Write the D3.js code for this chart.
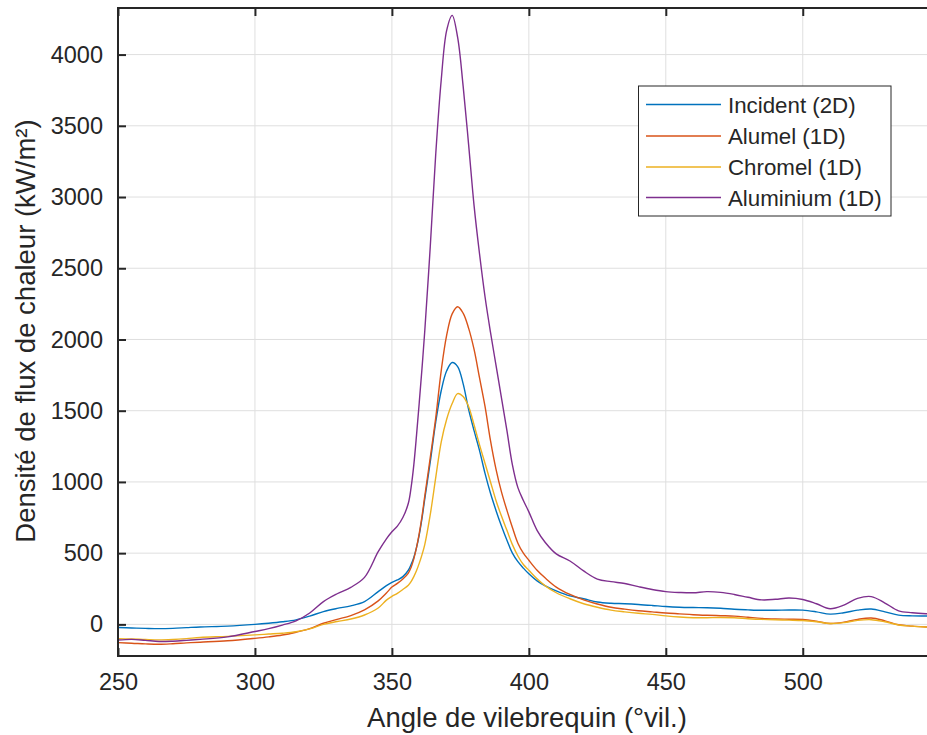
<!DOCTYPE html>
<html>
<head>
<meta charset="utf-8">
<script src="https://cdn.jsdelivr.net/npm/d3@7"></script>
<style>
  html, body { margin: 0; padding: 0; background: #fff; }
  svg { display: block; }
  text { font-family: "Liberation Sans", Arial, Helvetica, sans-serif; fill: #262626; }
</style>
</head>
<body>
<svg id="chart" width="927" height="735"></svg>
<script>
// ---- Data ----
const angle = [250,255,260,265,270,275,280,290,300,305,310,315,320,325,330,335,340,345,348,350,352,354,356,357,358,359,360,361,362,364,366,368,370,372,374,376,378,380,382,384,386,388,390,392,394,396,398,400,403,406,410,415,420,425,430,435,440,445,450,455,460,465,470,475,480,485,490,495,500,505,510,515,520,525,530,535,540,545,548];

const incident = [-22,-25,-28,-30,-28,-23,-18,-12,0,8,18,32,58,90,112,130,160,230,272,295,312,335,380,420,470,540,630,745,880,1140,1420,1640,1780,1838,1810,1690,1510,1360,1220,1060,920,800,690,590,500,440,395,355,305,270,235,200,180,157,148,145,140,133,125,120,118,117,113,106,102,99,99,101,100,88,72,82,100,108,88,65,60,59,58];

const alumel = [-128,-132,-137,-140,-136,-130,-125,-115,-98,-88,-75,-55,-30,8,35,62,102,165,220,262,288,318,360,400,460,540,640,760,900,1170,1450,1780,2030,2180,2230,2185,2080,1930,1730,1530,1290,1090,930,800,680,570,500,450,380,325,262,210,172,143,120,107,96,88,80,74,68,64,61,58,50,42,38,36,34,22,6,15,35,45,25,-3,-12,-18,-21];

const chromel = [-100,-102,-106,-109,-106,-100,-92,-84,-74,-68,-62,-52,-32,0,20,38,66,115,170,196,218,245,275,300,335,378,430,490,560,770,1030,1280,1440,1550,1620,1600,1530,1400,1260,1130,1000,870,760,660,560,480,420,380,320,270,222,180,145,120,100,88,78,70,60,52,47,47,48,46,40,35,32,30,27,18,6,12,28,33,18,-4,-12,-18,-21];

const aluminium = [-110,-105,-112,-120,-118,-112,-105,-88,-50,-30,-5,25,80,160,215,260,330,510,600,650,690,750,850,960,1120,1330,1560,1800,2060,2650,3300,3820,4170,4275,4120,3780,3370,2940,2600,2300,2050,1820,1590,1360,1120,960,870,790,660,575,495,445,375,318,300,287,265,245,230,224,222,230,225,210,190,172,176,185,175,145,110,135,182,195,150,95,82,75,73];

const seriesNames = ["Incident (2D)", "Alumel (1D)", "Chromel (1D)", "Aluminium (1D)"];
const seriesColors = ["#0072BD", "#D95319", "#EDB120", "#7E2F8E"];
const seriesValues = [incident, alumel, chromel, aluminium];

const xTicks = [250, 300, 350, 400, 450, 500];
const yTicks = [0, 500, 1000, 1500, 2000, 2500, 3000, 3500, 4000];
const xLabel = "Angle de vilebrequin (°vil.)";
const yLabel = "Densité de flux de chaleur (kW/m²)";

// ---- Layout ----
const L = 118, R = 930, T = 8, B = 656;
const svg = d3.select("#chart");

const x = d3.scaleLinear().domain([250, 250 + (R - L) / 2.739]).range([L, R]);
const y = d3.scaleLinear().domain([-222, 4327]).range([B, T]);

// grid
const grid = svg.append("g");
grid.selectAll("line.gx").data(xTicks).enter().append("line")
  .attr("x1", d => x(d)).attr("x2", d => x(d)).attr("y1", T).attr("y2", B)
  .attr("stroke", "#dfdfdf").attr("stroke-width", 1);
grid.selectAll("line.gy").data(yTicks).enter().append("line")
  .attr("x1", L).attr("x2", R).attr("y1", d => y(d)).attr("y2", d => y(d))
  .attr("stroke", "#dfdfdf").attr("stroke-width", 1);

// clip
svg.append("clipPath").attr("id", "clip").append("rect")
  .attr("x", L).attr("y", T).attr("width", R - L).attr("height", B - T);

const line = d3.line()
  .x((d, i) => x(angle[i]))
  .y(d => y(d))
  .curve(d3.curveCatmullRom.alpha(0.5));

const plot = svg.append("g").attr("clip-path", "url(#clip)");
seriesValues.forEach((vals, k) => {
  plot.append("path").datum(vals)
    .attr("d", line)
    .attr("fill", "none")
    .attr("stroke", seriesColors[k])
    .attr("stroke-width", 1.4)
    .attr("stroke-linejoin", "round");
});

// axes
const axisColor = "#262626";
const xAxis = svg.append("g").attr("transform", `translate(0,${B})`)
  .call(d3.axisBottom(x).tickValues(xTicks).tickSize(-8).tickPadding(17).tickFormat(d3.format("d")));
const xAxisTop = svg.append("g").attr("transform", `translate(0,${T})`)
  .call(d3.axisTop(x).tickValues(xTicks).tickSize(-8).tickFormat(""));
const yAxis = svg.append("g").attr("transform", `translate(${L},0)`)
  .call(d3.axisLeft(y).tickValues(yTicks).tickSize(-8).tickPadding(15).tickFormat(d3.format("d")));

[xAxis, xAxisTop, yAxis].forEach(g => {
  g.select(".domain").remove();
  g.selectAll(".tick line").attr("stroke", axisColor).attr("stroke-width", 2);
  g.selectAll(".tick text").attr("fill", axisColor)
    .style("font-family", '"Liberation Sans", Arial, sans-serif').style("font-size", "23.5px");
});
// frame
svg.append("rect").attr("x", L).attr("y", T).attr("width", R - L).attr("height", B - T)
  .attr("fill", "none").attr("stroke", axisColor).attr("stroke-width", 2);
xAxis.selectAll(".tick text").attr("dy", "0.71em");

// axis labels
svg.append("text")
  .attr("x", 527).attr("y", 727)
  .attr("text-anchor", "middle")
  .style("font-size", "27.5px")
  .text(xLabel);
svg.append("text")
  .attr("transform", "translate(35,331) rotate(-90)")
  .attr("text-anchor", "middle")
  .style("font-size", "27.5px")
  .text(yLabel);

// legend
const lg = svg.append("g");
lg.append("rect").attr("x", 638.5).attr("y", 86).attr("width", 252.5).attr("height", 130)
  .attr("fill", "#fff").attr("stroke", axisColor).attr("stroke-width", 1);
const rowY = [104.5, 136, 167, 197.5];
seriesNames.forEach((name, k) => {
  lg.append("line").attr("x1", 646).attr("x2", 721).attr("y1", rowY[k]).attr("y2", rowY[k])
    .attr("stroke", seriesColors[k]).attr("stroke-width", 1.4);
  lg.append("text").attr("x", 728).attr("y", rowY[k]).attr("dy", "0.36em")
    .style("font-size", "22.3px").text(name);
});
</script>
</body>
</html>
